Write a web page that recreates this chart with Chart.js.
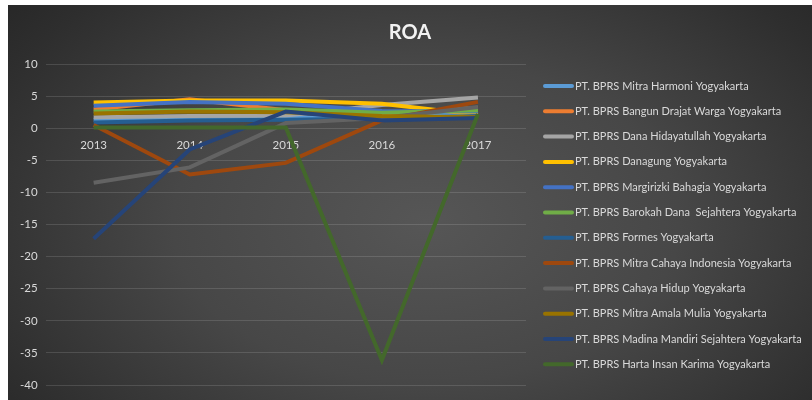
<!DOCTYPE html>
<html>
<head>
<meta charset="utf-8">
<script src="https://cdn.jsdelivr.net/npm/chart.js@4.4.1/dist/chart.umd.min.js"></script>
<style>
  html, body { margin: 0; padding: 0; background: #fff; }
  #box {
    position: absolute; left: 8px; top: 5px; width: 804px; height: 395px;
    background: radial-gradient(ellipse 70% 90% at 52% 55%, #565656 0%, #474747 45%, #2e2e2e 85%, #262626 100%);
  }
</style>
</head>
<body>
<div id="box"><canvas id="roa"></canvas></div>
<script>
// ROA per bank, 2013-2017
const years = ["2013", "2014", "2015", "2016", "2017"];
const yTicks = [10, 5, 0, -5, -10, -15, -20, -25, -30, -35, -40];

const banks = [
  "PT. BPRS Mitra Harmoni Yogyakarta",
  "PT. BPRS Bangun Drajat Warga Yogyakarta",
  "PT. BPRS Dana Hidayatullah Yogyakarta",
  "PT. BPRS Danagung Yogyakarta",
  "PT. BPRS Margirizki Bahagia Yogyakarta",
  "PT. BPRS Barokah Dana  Sejahtera Yogyakarta",
  "PT. BPRS Formes Yogyakarta",
  "PT. BPRS Mitra Cahaya Indonesia Yogyakarta",
  "PT. BPRS Cahaya Hidup Yogyakarta",
  "PT. BPRS Mitra Amala Mulia Yogyakarta",
  "PT. BPRS Madina Mandiri Sejahtera Yogyakarta",
  "PT. BPRS Harta Insan Karima Yogyakarta"
];

const mitraHarmoni   = [1.3, 1.5, 1.7, 1.6, 2.3];
const bangunDrajat   = [2.9, 4.5, 2.8, 2.2, 3.2];
const danaHidayat    = [1.7, 1.9, 2.0, 3.6, 4.8];
const danagung       = [4.0, 4.3, 4.3, 3.8, 2.1];
const margirizki     = [3.5, 4.1, 3.8, 2.7, 2.6];
const barokahDana    = [2.6, 2.8, 2.9, 2.4, 2.8];
const formes         = [0.9, 1.2, 1.3, 1.5, 1.9];
const mitraCahaya    = [0.5, -7.2, -5.4, 1.2, 4.1];
const cahayaHidup    = [-8.5, -6.1, 0.8, 1.6, 3.3];
const mitraAmala     = [2.3, 2.6, 2.5, 1.9, 1.7];
const madinaMandiri  = [-17.2, -3.3, 2.6, 1.2, 1.6];
const hartaInsan     = [0.1, 0.1, 0.1, -36.1, 2.2];

const seriesValues = [mitraHarmoni, bangunDrajat, danaHidayat, danagung, margirizki, barokahDana,
  formes, mitraCahaya, cahayaHidup, mitraAmala, madinaMandiri, hartaInsan];

const colors = ["#5B9BD5", "#ED7D31", "#A5A5A5", "#FFC000", "#4472C4", "#70AD47",
  "#255E91", "#9E480E", "#636363", "#997300", "#264478", "#43682B"];

const TEXT = "#d9d9d9";
const FONT = "Lato, 'Liberation Sans', sans-serif";

const datasets = banks.map((name, i) => ({
  label: name,
  data: seriesValues[i],
  borderColor: colors[i],
  backgroundColor: colors[i],
  borderWidth: 4,
  pointRadius: 0,
  tension: 0,
  order: banks.length - i // later series drawn on top, like excel
}));

// built-in legend is capped at a quarter of the width, and the title would centre
// over the plot only, so both are drawn here
const sideLegend = {
  id: "sideLegend",
  afterDraw(chart) {
    const ctx = chart.ctx;
    ctx.save();

    ctx.font = "bold 20px " + FONT;
    ctx.fillStyle = "#f2f2f2";
    ctx.textAlign = "center";
    ctx.textBaseline = "middle";
    ctx.fillText("ROA", chart.width / 2, 28);

    const x0 = chart.chartArea.right + 19;
    const top = 81;
    const step = 25.3;
    ctx.font = "11px " + FONT;
    ctx.textAlign = "left";
    chart.data.datasets.forEach((ds, i) => {
      const y = top + i * step;
      ctx.strokeStyle = ds.borderColor;
      ctx.lineWidth = 4;
      ctx.lineCap = "round";
      ctx.beginPath();
      ctx.moveTo(x0, y);
      ctx.lineTo(x0 + 27, y);
      ctx.stroke();
      ctx.fillStyle = TEXT;
      ctx.fillText(ds.label, x0 + 30, y);
    });
    ctx.restore();
  }
};

new Chart(document.getElementById("roa"), {
  type: "line",
  data: { labels: years, datasets: datasets },
  plugins: [sideLegend],
  options: {
    responsive: true,
    maintainAspectRatio: false,
    animation: false,
    layout: { padding: { left: 4, right: 286, top: 59, bottom: 0 } },
    plugins: {
      title: { display: false },
      legend: { display: false },
      tooltip: { enabled: false }
    },
    scales: {
      x: {
        offset: true,
        position: { y: 0 },
        grid: { display: false },
        border: { display: false },
        ticks: { color: TEXT, font: { family: FONT, size: 11.5 }, padding: 2 },
        afterFit: s => { s.height = 0; }
      },
      y: {
        min: -40,
        max: 10,
        afterBuildTicks: s => { s.ticks = yTicks.map(v => ({ value: v })); },
        grid: { color: "rgba(255,255,255,0.13)", lineWidth: 1, drawTicks: false },
        border: { display: false },
        ticks: { color: TEXT, font: { family: FONT, size: 11.5 }, padding: 8 }
      }
    }
  }
});
</script>
</body>
</html>
